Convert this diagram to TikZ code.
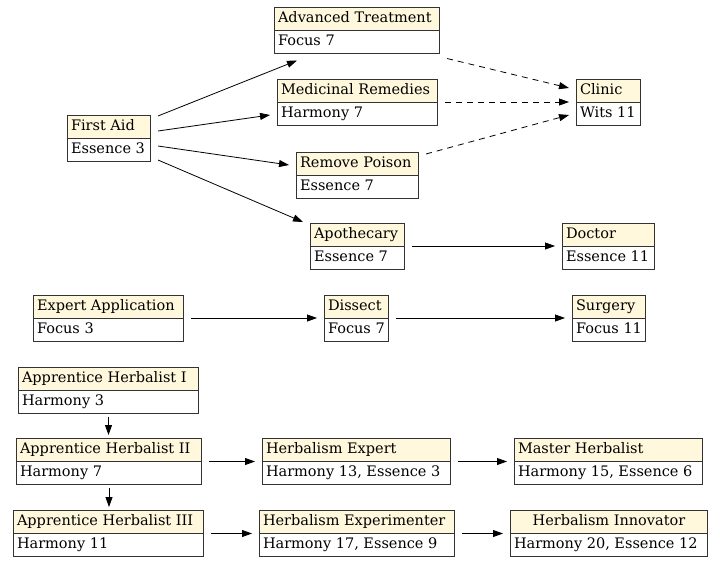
\documentclass[tikz,border=0pt]{standalone}
\usepackage{fontspec}
\setmainfont{DejaVu Serif}
\usetikzlibrary{shapes.multipart,arrows.meta,calc}
\definecolor{cornsilk}{HTML}{FFF8DC}
% one cell of a record: fixed width, fixed height
\newcommand\cell[3][l]{\makebox[#2][#1]{\rule[-4.5pt]{0pt}{16pt}#3}}
\tikzset{
	rec/.style={rectangle split, rectangle split parts=2, draw=black!80, line width=1pt,
			rectangle split part fill={cornsilk,white},
			inner xsep=3.5pt, inner ysep=3pt, outer sep=7.5pt,
			font=\fontsize{14.5}{18}\selectfont},
	edge/.style={->, line width=0.8pt},
	soft/.style={edge, dash pattern=on 6pt off 5pt},
	down/.style={edge, shorten <=-4pt, shorten >=-4pt}
}
\begin{document}
\begin{tikzpicture}[x=1pt, y=-1pt, >={Triangle[length=10pt,width=7pt]}]
		\useasboundingbox[fill=white] (0,0) rectangle (720,565);
		% first aid tree
		\node[rec] (at) at (357,30) {\cell{158pt}{Advanced Treatment}\nodepart{two}\cell{158pt}{Focus 7}};
		\node[rec] (mr) at (357.5,102) {\cell{153pt}{Medicinal Remedies}\nodepart{two}\cell{153pt}{Harmony 7}};
		\node[rec] (fa) at (109,138) {\cell{76pt}{First Aid}\nodepart{two}\cell{76pt}{Essence 3}};
		\node[rec] (rp) at (357.5,175) {\cell{115pt}{Remove Poison}\nodepart{two}\cell{115pt}{Essence 7}};
		\node[rec] (cl) at (608.5,102) {\cell{57pt}{Clinic}\nodepart{two}\cell{57pt}{Wits 11}};
		\node[rec] (ap) at (357.5,246) {\cell{87pt}{Apothecary}\nodepart{two}\cell{87pt}{Essence 7}};
		\node[rec] (dr) at (608.5,246) {\cell{85pt}{Doctor}\nodepart{two}\cell{85pt}{Essence 11}};
		% focus line
		\node[rec] (ea) at (108.5,318) {\cell{143pt}{Expert Application}\nodepart{two}\cell{143pt}{Focus 3}};
		\node[rec] (ds) at (356.5,318) {\cell{57pt}{Dissect}\nodepart{two}\cell{57pt}{Focus 7}};
		\node[rec] (sg) at (609,318) {\cell{66pt}{Surgery}\nodepart{two}\cell{66pt}{Focus 11}};
		% herbalism
		\node[rec] (ah1) at (108.5,390) {\cell{173pt}{Apprentice Herbalist I}\nodepart{two}\cell{173pt}{Harmony 3}};
		\node[rec] (ah2) at (109,461.5) {\cell{178pt}{Apprentice Herbalist II}\nodepart{two}\cell{178pt}{Harmony 7}};
		\node[rec] (ah3) at (108.5,533.5) {\cell{183pt}{Apprentice Herbalist III}\nodepart{two}\cell{183pt}{Harmony 11}};
		\node[rec] (he) at (356.5,461.5) {\cell{181pt}{Herbalism Expert}\nodepart{two}\cell{181pt}{Harmony 13, Essence 3}};
		\node[rec] (mh) at (608.5,461.5) {\cell{181pt}{Master Herbalist}\nodepart{two}\cell{181pt}{Harmony 15, Essence 6}};
		\node[rec] (hx) at (357,533.5) {\cell{188pt}{Herbalism Experimenter}\nodepart{two}\cell{188pt}{Harmony 17, Essence 9}};
		\node[rec] (hi) at (609,533.5) {\cell[c]{190pt}{Herbalism Innovator}\nodepart{two}\cell{190pt}{Harmony 20, Essence 12}};

		\draw[edge] ($(fa.east)+(0,-22)$) -- ($(at.south west)+(30,0)$);
		\draw[edge] ($(fa.east)+(0,-7)$) -- ($(mr.west)+(0,13)$);
		\draw[edge] ($(fa.east)+(0,8)$) -- ($(rp.west)+(0,-10)$);
		\draw[edge] ($(fa.east)+(0,22)$) -- ($(ap.west)+(0,-24)$);
		\draw[soft] ($(at.south east)+(0,-2)$) -- ($(cl.west)+(0,-14)$);
		\draw[soft] (mr) -- (cl);
		\draw[soft] ($(rp.east)+(0,-21)$) -- ($(cl.west)+(0,13)$);
		\draw[edge] (ap) -- (dr);
		\draw[edge] (ea) -- (ds);
		\draw[edge] (ds) -- (sg);
		\draw[down] (ah1.south) -- (ah1.south |- ah2.north);
		\draw[down] (ah2.south) -- (ah2.south |- ah3.north);
		\draw[edge] (ah2) -- (he);
		\draw[edge] (he) -- (mh);
		\draw[edge] (ah3) -- (hx);
		\draw[edge] (hx) -- (hi);
	\end{tikzpicture}
\end{document}
